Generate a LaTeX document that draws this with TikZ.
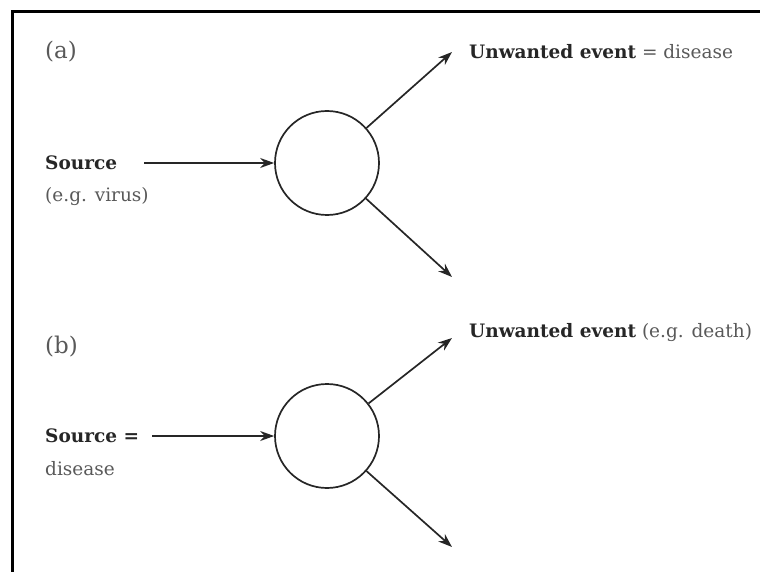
\documentclass[tikz,border=0pt]{standalone}
\usepackage{fontspec}
\setmainfont{DejaVu Serif}
\usepackage{xcolor}
\usetikzlibrary{arrows.meta}
\definecolor{txtgray}{gray}{0.35}
\definecolor{txtdark}{gray}{0.15}

\begin{document}
\begin{tikzpicture}[x=1pt,y=-1pt,>=Stealth,
  font=\fontsize{18.5}{22}\selectfont,
  hub/.style={circle,draw=txtdark,line width=1.7pt,minimum size=104pt,inner sep=0pt},
  arr/.style={draw=txtdark,line width=1.7pt,-{Stealth[length=14pt,width=10pt]}},
  lbl/.style={anchor=west,inner sep=0pt,text=txtdark}]
\useasboundingbox (0,0) rectangle (760,572);
\draw[line width=3pt](12,572)--(12,12)--(760,12);

% (a)
\node[lbl,font=\fontsize{23}{27}\selectfont,txtgray] (taga) at (45,52) {(a)};
\node[hub] (huba) at (327,163) {};
\node[lbl] (srca) at (45,163) {\textbf{Source}};
\node[lbl,txtgray] (srcanote) at (45,197) {(e.g. virus)};
\coordinate (ina) at (144,163);
\coordinate (upa) at (452,52);
\coordinate (dna) at (452,277);
\node[lbl] (eva) at (469,52) {\textbf{Unwanted event} \textcolor{txtgray}{= disease}};
\draw[arr](ina)--(huba);
\draw[arr](huba)--(upa);
\draw[arr](huba)--(dna);

% (b)
\node[lbl,font=\fontsize{23}{27}\selectfont,txtgray] (tagb) at (45,347) {(b)};
\node[hub] (hubb) at (327,436) {};
\node[lbl] (srcb) at (45,436) {\textbf{Source =}};
\node[lbl,txtgray] (srcbnote) at (45,469) {disease};
\coordinate (inb) at (152,436);
\coordinate (upb) at (452,338);
\coordinate (dnb) at (452,547);
\node[lbl] (evb) at (469,333) {\textbf{Unwanted event} \textcolor{txtgray}{(e.g. death)}};
\draw[arr](inb)--(hubb);
\draw[arr](hubb)--(upb);
\draw[arr](hubb)--(dnb);
\end{tikzpicture}
\end{document}
